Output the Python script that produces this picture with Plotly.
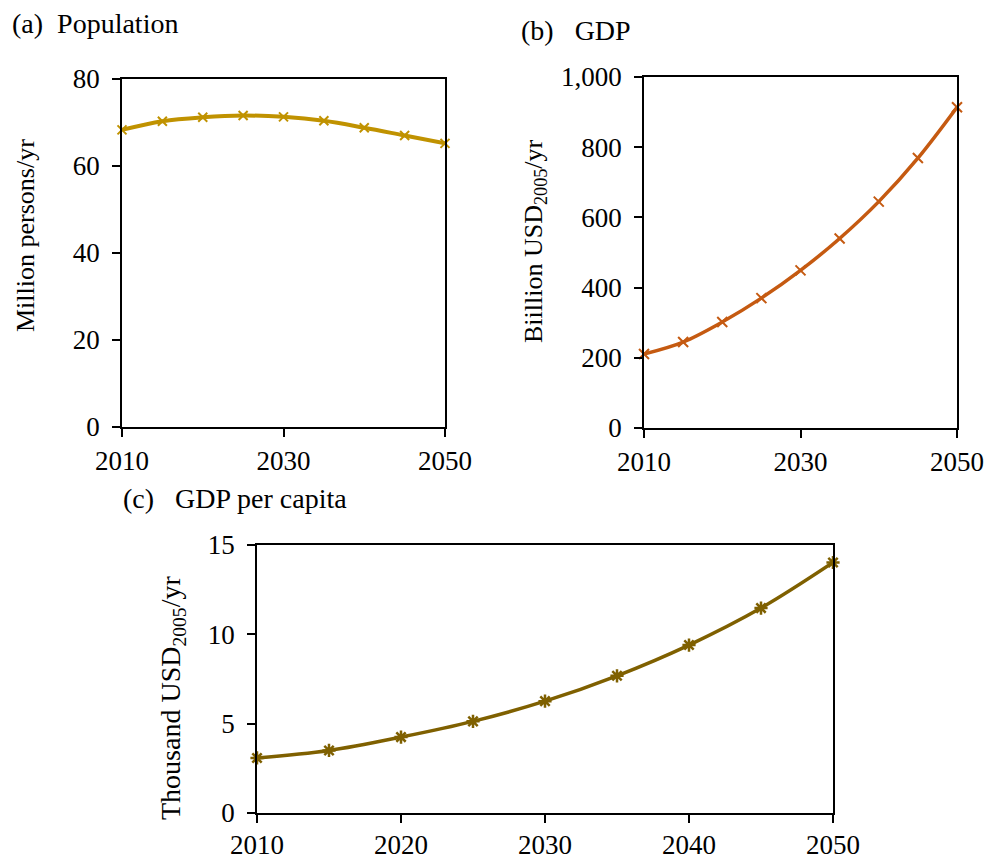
import plotly.graph_objects as go

# Scenario years and projected series
years = [2010, 2015, 2020, 2025, 2030, 2035, 2040, 2045, 2050]
population = [68.3, 70.3, 71.2, 71.6, 71.3, 70.4, 68.8, 67.0, 65.2]        # million persons/yr
gdp = [211, 245, 302, 370, 449, 540, 645, 769, 914]                         # billion USD2005/yr
gdp_per_capita = [3.08, 3.50, 4.25, 5.13, 6.26, 7.68, 9.40, 11.47, 14.02]  # thousand USD2005/yr

FONT = "Liberation Serif"
W, H = 984, 860

fig = go.Figure()

fig.add_trace(go.Scatter(
    x=years, y=population, mode="lines+markers", xaxis="x", yaxis="y", cliponaxis=False,
    line=dict(color="#C09200", width=4, shape="spline"),
    marker=dict(symbol="x-thin-open", size=9, line=dict(color="#C09200", width=2)),
    showlegend=False))
fig.add_trace(go.Scatter(
    x=years, y=gdp, mode="lines+markers", xaxis="x2", yaxis="y2", cliponaxis=False,
    line=dict(color="#C55A11", width=3.5, shape="spline"),
    marker=dict(symbol="x-thin-open", size=10, line=dict(color="#C55A11", width=2)),
    showlegend=False))
fig.add_trace(go.Scatter(
    x=years, y=gdp_per_capita, mode="lines+markers", xaxis="x3", yaxis="y3", cliponaxis=False,
    line=dict(color="#7F6000", width=3.5, shape="spline"),
    marker=dict(symbol="asterisk-open", size=11, line=dict(color="#7F6000", width=2.5)),
    showlegend=False))


def px_x(p):
    return p / W


def px_y(p):
    return 1 - p / H


axis_common = dict(
    showline=True, linecolor="black", linewidth=1.5, mirror=True,
    ticks="outside", ticklen=8, tickwidth=1.5, tickcolor="black",
    showgrid=False, zeroline=False, automargin=False,
    ticklabeloverflow="allow",
    tickfont=dict(family=FONT, size=27, color="black"),
)

fig.update_layout(
    width=W, height=H,
    margin=dict(l=0, r=0, t=0, b=0, pad=0, autoexpand=False),
    paper_bgcolor="white", plot_bgcolor="white",
    font=dict(family=FONT, color="black"),
    xaxis=dict(domain=[px_x(122), px_x(445)], anchor="y", range=[2010, 2050],
               tickvals=[2010, 2030, 2050], ticklabelstandoff=1, **axis_common),
    yaxis=dict(domain=[px_y(427), px_y(79)], anchor="x", range=[0, 80],
               dtick=20, ticklabelstandoff=7, **axis_common),
    xaxis2=dict(domain=[px_x(644), px_x(957)], anchor="y2", range=[2010, 2050],
                tickvals=[2010, 2030, 2050], ticklabelstandoff=1, **axis_common),
    yaxis2=dict(domain=[px_y(428), px_y(77)], anchor="x2", range=[0, 1000],
                dtick=200, tickformat=",", ticklabelstandoff=7, **axis_common),
    xaxis3=dict(domain=[px_x(257), px_x(833)], anchor="y3", range=[2010, 2050],
                dtick=10, ticklabelstandoff=-1, **axis_common),
    yaxis3=dict(domain=[px_y(813), px_y(545)], anchor="x3", range=[0, 15],
                dtick=5, ticklabelstandoff=7, **axis_common),
)

titles = [
    ("(a)\u00a0\u00a0Population", 10, 23),
    ("(b)\u00a0\u00a0\u00a0GDP", 519, 31),
    ("(c)\u00a0\u00a0\u00a0GDP per capita", 121, 498),
]
for text, x, y in titles:
    fig.add_annotation(text=text, x=px_x(x), y=px_y(y), xref="paper", yref="paper",
                       xanchor="left", yanchor="middle", showarrow=False,
                       font=dict(family=FONT, size=28, color="black"))

axis_titles = [
    ("Million persons/yr", 26, 236, 26),
    ("Biillion USD<sub>2005</sub>/yr", 535, 241, 26),
    ("Thousand USD<sub>2005</sub>/yr", 172, 698, 28),
]
for text, x, y, size in axis_titles:
    fig.add_annotation(text=text, x=px_x(x), y=px_y(y), xref="paper", yref="paper",
                       xanchor="center", yanchor="middle", textangle=-90, showarrow=False,
                       font=dict(family=FONT, size=size, color="black"))

fig.write_html("out.html")
